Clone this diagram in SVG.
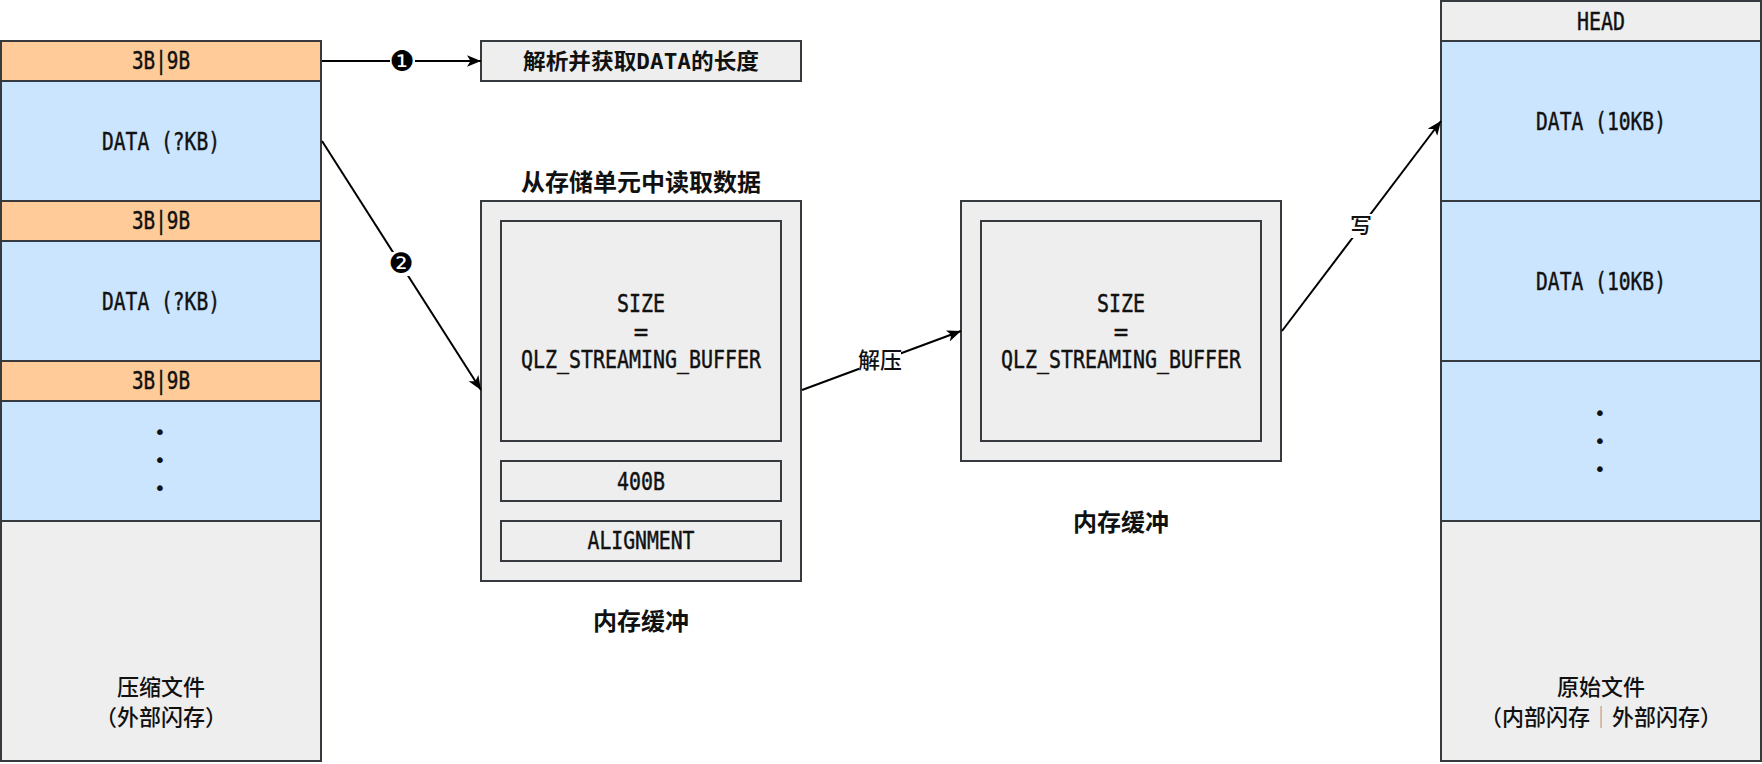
<svg xmlns="http://www.w3.org/2000/svg" width="1762" height="764" viewBox="0 0 1762 764">
<style>
.box{stroke:#36393d;stroke-width:2}
.or{fill:#ffcc99}.bl{fill:#cce5ff}.gr{fill:#eeeeee}
.m{font-family:"DejaVu Sans Mono","Liberation Mono",monospace;font-size:24px;fill:#111;stroke:#111;stroke-width:0.45;text-anchor:middle}
.c{font-family:"Noto Sans CJK SC","Noto Sans",sans-serif;font-size:22px;font-weight:500;fill:#111;text-anchor:middle}
.cb{font-family:"Noto Sans CJK SC","Noto Sans",sans-serif;font-size:24px;font-weight:bold;fill:#111;text-anchor:middle}
.pb{font-family:"Noto Sans CJK SC","Noto Sans",sans-serif;font-size:22px;font-weight:bold;fill:#111;text-anchor:middle}
.dot{font-family:"DejaVu Sans",sans-serif;font-size:20px;fill:#111;text-anchor:middle}
.edge{stroke:#000;stroke-width:2;fill:none}
.lbl{font-family:"DejaVu Sans","Noto Sans CJK SC",sans-serif;font-size:28px;fill:#000;text-anchor:middle}
</style>
<defs>
<marker id="arr" viewBox="0 0 12 10" refX="12" refY="5" markerWidth="14" markerHeight="12" markerUnits="userSpaceOnUse" orient="auto">
<path d="M0,0 L12,5 L0,10 L3,5 Z" fill="#000"/>
</marker>
</defs>
<rect width="1762" height="764" fill="#fff"/>

<g id="compressed-file">
<rect class="box or" x="1" y="41" width="320" height="40"/>
<text class="m" x="161" y="69" textLength="58" lengthAdjust="spacingAndGlyphs">3B|9B</text>
<rect class="box bl" x="1" y="81" width="320" height="120"/>
<text class="m" x="161" y="150" textLength="118" lengthAdjust="spacingAndGlyphs">DATA (?KB)</text>
<rect class="box or" x="1" y="201" width="320" height="40"/>
<text class="m" x="161" y="229" textLength="58" lengthAdjust="spacingAndGlyphs">3B|9B</text>
<rect class="box bl" x="1" y="241" width="320" height="120"/>
<text class="m" x="161" y="310" textLength="118" lengthAdjust="spacingAndGlyphs">DATA (?KB)</text>
<rect class="box or" x="1" y="361" width="320" height="40"/>
<text class="m" x="161" y="389" textLength="58" lengthAdjust="spacingAndGlyphs">3B|9B</text>
<rect class="box bl" x="1" y="401" width="320" height="120"/>
<text class="dot" x="160" y="439">•</text>
<text class="dot" x="160" y="467">•</text>
<text class="dot" x="160" y="495">•</text>
<rect class="box gr" x="1" y="521" width="320" height="240"/>
<text class="c" x="161" y="695">压缩文件</text>
<text class="c" x="161" y="725">（外部闪存）</text>
</g>

<g id="parse-box">
<rect class="box gr" x="481" y="41" width="320" height="40"/>
<text class="pb" x="641" y="69" textLength="236" lengthAdjust="spacingAndGlyphs">解析并获取<tspan font-family="DejaVu Sans Mono,monospace">DATA</tspan>的长度</text>
</g>

<g id="read-buffer">
<text class="cb" x="641" y="191">从存储单元中读取数据</text>
<rect class="box gr" x="481" y="201" width="320" height="380"/>
<rect class="box gr" x="501" y="221" width="280" height="220"/>
<text class="m" x="641" y="312" textLength="48" lengthAdjust="spacingAndGlyphs">SIZE</text>
<text class="m" x="641" y="340">=</text>
<text class="m" x="641" y="368" textLength="240" lengthAdjust="spacingAndGlyphs">QLZ_STREAMING_BUFFER</text>
<rect class="box gr" x="501" y="461" width="280" height="40"/>
<text class="m" x="641" y="490" textLength="48" lengthAdjust="spacingAndGlyphs">400B</text>
<rect class="box gr" x="501" y="521" width="280" height="40"/>
<text class="m" x="641" y="549" textLength="107" lengthAdjust="spacingAndGlyphs">ALIGNMENT</text>
<text class="cb" x="641" y="630">内存缓冲</text>
</g>

<g id="decompress-buffer">
<rect class="box gr" x="961" y="201" width="320" height="260"/>
<rect class="box gr" x="981" y="221" width="280" height="220"/>
<text class="m" x="1121" y="312" textLength="48" lengthAdjust="spacingAndGlyphs">SIZE</text>
<text class="m" x="1121" y="340">=</text>
<text class="m" x="1121" y="368" textLength="240" lengthAdjust="spacingAndGlyphs">QLZ_STREAMING_BUFFER</text>
<text class="cb" x="1121" y="531">内存缓冲</text>
</g>

<g id="original-file">
<rect class="box gr" x="1441" y="1" width="320" height="40"/>
<text class="m" x="1601" y="30" textLength="48" lengthAdjust="spacingAndGlyphs">HEAD</text>
<rect class="box bl" x="1441" y="41" width="320" height="160"/>
<text class="m" x="1601" y="130" textLength="130" lengthAdjust="spacingAndGlyphs">DATA (10KB)</text>
<rect class="box bl" x="1441" y="201" width="320" height="160"/>
<text class="m" x="1601" y="290" textLength="130" lengthAdjust="spacingAndGlyphs">DATA (10KB)</text>
<rect class="box bl" x="1441" y="361" width="320" height="160"/>
<text class="dot" x="1600" y="420">•</text>
<text class="dot" x="1600" y="448">•</text>
<text class="dot" x="1600" y="476">•</text>
<rect class="box gr" x="1441" y="521" width="320" height="240"/>
<text class="c" x="1601" y="695">原始文件</text>
<text class="c" x="1601" y="725">（内部闪存<tspan fill="#999">｜</tspan>外部闪存）</text>
</g>

<g id="connectors">
<line class="edge" x1="322" y1="61" x2="481" y2="61" marker-end="url(#arr)"/>
<rect x="390" y="50" width="25" height="22" fill="#fff"/>
<text class="lbl" x="402" y="71">❶</text>
<line class="edge" x1="322" y1="141" x2="481" y2="390" marker-end="url(#arr)"/>
<rect x="389" y="252" width="25" height="24" fill="#fff"/>
<text class="lbl" x="401" y="273">❷</text>
<line class="edge" x1="802" y1="390" x2="961" y2="331" marker-end="url(#arr)"/>
<rect x="859" y="348" width="42" height="24" fill="#fff"/>
<text class="c" x="880" y="368" font-size="20">解压</text>
<line class="edge" x1="1282" y1="331" x2="1441" y2="121" marker-end="url(#arr)"/>
<rect x="1350" y="214" width="22" height="24" fill="#fff"/>
<text class="c" x="1361" y="233" font-size="20">写</text>
</g>
</svg>
